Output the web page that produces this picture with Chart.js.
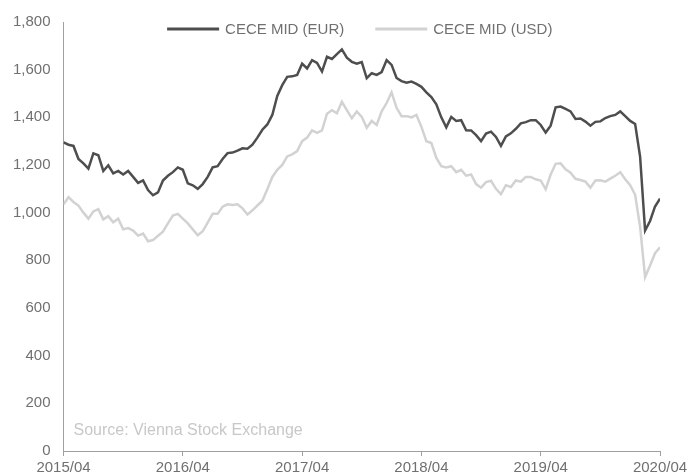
<!DOCTYPE html>
<html>
<head>
<meta charset="utf-8">
<title>CECE MID</title>
<script src="https://cdn.jsdelivr.net/npm/chart.js@4.4.1/dist/chart.umd.min.js"></script>
<style>
    html, body { margin: 0; padding: 0; background: #fff; }
    #wrap { width: 687px; height: 475px; }
</style>
</head>
<body>
<div id="wrap"><canvas id="ceceChart"></canvas></div>
<script>
// CECE MID index, semi-monthly points from 2015/04 to 2020/04
const yearLabels = ['2015/04', '2016/04', '2017/04', '2018/04', '2019/04', '2020/04'];

const eurValues = [
    1295, 1285, 1280, 1225, 1207, 1185, 1249, 1241, 1175, 1199,
    1165, 1175, 1160, 1175, 1150, 1125, 1135, 1095, 1073, 1085,
    1135, 1155, 1170, 1190, 1180, 1123, 1115, 1100, 1120, 1150,
    1190, 1195, 1225, 1250, 1252, 1260, 1270, 1268, 1285, 1315,
    1348, 1370, 1410, 1490, 1535, 1570, 1572, 1578, 1625, 1605,
    1640, 1628, 1592, 1654, 1645, 1665, 1685, 1650, 1633, 1625,
    1632, 1564, 1585, 1578, 1590, 1640, 1620, 1565, 1552, 1545,
    1550, 1540, 1528, 1505, 1485, 1455, 1400, 1358, 1402, 1385,
    1388, 1346, 1345, 1325, 1300, 1332, 1340, 1318, 1280, 1320,
    1333, 1352, 1375, 1380, 1388, 1388, 1368, 1336, 1365, 1442,
    1445, 1435, 1425, 1393, 1395, 1382, 1365, 1381, 1383, 1397,
    1405, 1410, 1425, 1405, 1385, 1372, 1234, 925, 965, 1026,
    1059
];

const usdValues = [
    1035, 1065, 1045, 1030, 1000, 975, 1005, 1015, 972, 985,
    960, 975, 930, 935, 925, 904, 912, 880, 885, 903,
    920, 955, 988, 995, 975, 955, 930, 905, 922, 958,
    995, 995, 1025, 1035, 1032, 1035, 1018, 992, 1010, 1030,
    1050, 1098, 1150, 1180, 1200, 1236, 1245, 1258, 1300, 1315,
    1345, 1335, 1345, 1415, 1430, 1417, 1465, 1430, 1396, 1425,
    1402, 1356, 1385, 1368, 1425, 1460, 1505, 1440, 1405, 1405,
    1400, 1410, 1360, 1300, 1292, 1230, 1195, 1190, 1195, 1170,
    1180, 1155, 1160, 1120, 1105, 1128, 1134, 1100, 1078, 1115,
    1108, 1135, 1130, 1150, 1150, 1140, 1135, 1098, 1160, 1205,
    1207, 1182, 1168, 1142, 1137, 1130, 1105, 1135, 1136, 1130,
    1143, 1155, 1170, 1140, 1115, 1075, 940, 730, 778, 830,
    855
];

const FONT = '"Liberation Sans", Arial, sans-serif';
const TEXT_COLOR = '#707070';
const AXIS_COLOR = '#a0a0a0';

// legend drawn inside the plot, plus the source note
const overlayPlugin = {
    id: 'overlay',
    afterDraw(chart) {
        const ctx = chart.ctx;
        const area = chart.chartArea;
        ctx.save();
        ctx.font = '15px ' + FONT;
        ctx.textBaseline = 'middle';

        const lineLen = 52, gap = 6, spacing = 31;
        const items = chart.data.datasets.map(ds => ({
            text: ds.label,
            color: ds.borderColor,
            width: ctx.measureText(ds.label).width
        }));
        const total = items.reduce((s, it) => s + lineLen + gap + it.width, 0) + spacing * (items.length - 1);
        let x = (area.left + area.right) / 2 - 2 - total / 2;
        const y = area.top + 7;
        items.forEach(it => {
            ctx.strokeStyle = it.color;
            ctx.lineWidth = 3;
            ctx.beginPath();
            ctx.moveTo(x, y);
            ctx.lineTo(x + lineLen, y);
            ctx.stroke();
            ctx.fillStyle = TEXT_COLOR;
            ctx.fillText(it.text, x + lineLen + gap, y + 1);
            x += lineLen + gap + it.width + spacing;
        });

        ctx.font = '16px ' + FONT;
        ctx.fillStyle = '#c8c8c8';
        ctx.fillText('Source: Vienna Stock Exchange', area.left + 10, area.bottom - 20);
        ctx.restore();
    }
};

document.addEventListener('DOMContentLoaded', function() {
    const ctx = document.getElementById('ceceChart');
    new Chart(ctx, {
        type: 'line',
        data: {
            datasets: [{
                label: 'CECE MID (EUR)',
                data: eurValues.map((v, i) => ({x: i, y: v})),
                borderColor: '#4e4e4e',
                borderWidth: 2.5,
                pointRadius: 0,
                tension: 0
            }, {
                label: 'CECE MID (USD)',
                data: usdValues.map((v, i) => ({x: i, y: v})),
                borderColor: '#d2d2d2',
                borderWidth: 2.5,
                pointRadius: 0,
                tension: 0
            }]
        },
        options: {
            responsive: true,
            maintainAspectRatio: false,
            animation: false,
            layout: {
                padding: {top: 22, right: 0, bottom: -5, left: 0}
            },
            plugins: {
                legend: { display: false },
                tooltip: { enabled: false }
            },
            scales: {
                x: {
                    type: 'linear',
                    min: 0,
                    max: 120,
                    afterFit: scale => { scale.paddingRight = 27; },
                    grid: {
                        display: true,
                        drawOnChartArea: false,
                        drawTicks: true,
                        tickLength: 5,
                        color: AXIS_COLOR
                    },
                    border: { display: true, color: AXIS_COLOR, width: 1 },
                    ticks: {
                        stepSize: 24,
                        padding: 3,
                        maxRotation: 0,
                        color: TEXT_COLOR,
                        font: { family: FONT, size: 15 },
                        callback: value => yearLabels[value / 24]
                    }
                },
                y: {
                    min: 0,
                    max: 1800,
                    grid: { display: false, drawTicks: false },
                    border: { display: true, color: AXIS_COLOR, width: 1 },
                    ticks: {
                        stepSize: 200,
                        padding: 13,
                        color: TEXT_COLOR,
                        font: { family: FONT, size: 15 },
                        callback: value => value.toLocaleString('en-US')
                    }
                }
            }
        },
        plugins: [overlayPlugin]
    });
});
</script>
</body>
</html>
